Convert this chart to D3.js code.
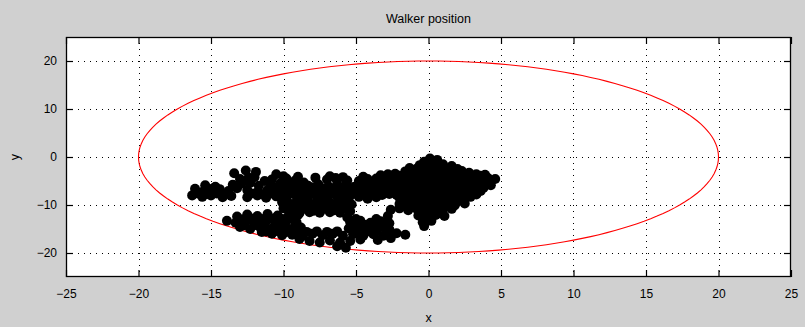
<!DOCTYPE html>
<html>
<head>
<meta charset="utf-8">
<script src="https://cdn.jsdelivr.net/npm/d3@7"></script>
<style>
  html, body { margin: 0; padding: 0; background: #d0d0d0; }
  svg { display: block; }
  text { font-family: "Liberation Sans", Arial, sans-serif; fill: #000; }
</style>
</head>
<body>
<svg id="chart" width="805" height="327"></svg>
<script>
// Axis settings
const xDomain = [-25, 25];
const yDomain = [-25, 25];
const xTicks = [-25, -20, -15, -10, -5, 0, 5, 10, 15, 20, 25];
const yTicks = [-20, -10, 0, 10, 20];
const titleText = "Walker position";
const xLabelText = "x";
const yLabelText = "y";

// Boundary the walker moves inside (circle centred on the origin)
const boundaryCenter = [0, 0];
const boundaryRadius = 20;

// Recorded walker positions [x, y]
const walkerPositions = [
  // upper-left band and the bumps above it
  [-13.4,-3.4],[-12.6,-2.8],[-11.9,-3.1],[-10.5,-3.6],[-10.0,-4.0],
  [-9.0,-4.1],[-7.8,-4.3],[-6.8,-4.0],[-5.9,-4.2],[-4.5,-4.1],
  [-13.0,-4.6],[-12.4,-4.3],[-10.8,-4.7],[-9.8,-4.5],[-9.2,-4.9],[-8.6,-5.3],
  [-7.0,-4.7],[-6.4,-4.4],[-5.6,-4.9],[-4.8,-5.0],[-4.2,-4.6],
  [-15.4,-5.9],[-14.7,-6.2],[-12.3,-5.4],[-11.7,-6.0],[-10.9,-5.7],[-10.2,-5.4],
  [-9.5,-5.9],[-8.9,-5.6],[-8.3,-6.0],[-7.6,-5.7],[-6.9,-6.1],[-6.3,-5.6],
  [-5.7,-5.9],[-5.1,-6.2],[-4.5,-5.6],[-3.9,-5.9],
  [-14.9,-6.6],[-13.5,-5.8],[-12.9,-5.5],[-12.0,-4.2],[-11.3,-5.0],[-10.6,-6.3],
  [-9.9,-6.2],[-9.2,-6.4],[-8.6,-6.5],[-7.9,-6.3],[-7.3,-6.5],[-6.6,-6.6],
  [-5.9,-6.4],[-5.3,-6.6],[-4.6,-6.3],[-4.0,-6.5],[-3.4,-6.3],
  [-16.1,-6.6],[-15.6,-7.3],[-15.0,-7.0],[-14.4,-6.7],[-13.8,-7.1],[-13.2,-6.5],
  [-12.5,-6.9],[-11.8,-7.3],[-11.1,-6.9],[-10.3,-7.2],[-9.6,-6.8],[-9.0,-7.3],
  [-8.3,-6.9],[-7.6,-7.2],[-7.0,-6.8],[-6.3,-7.3],[-5.6,-7.0],[-4.9,-7.4],
  [-4.2,-6.9],[-3.6,-7.2],
  [-15.9,-7.6],[-15.3,-7.7],[-14.6,-7.6],[-14.0,-7.7],[-12.2,-7.6],[-11.5,-7.7],
  [-10.8,-7.6],[-10.1,-7.7],[-9.4,-7.6],[-8.7,-7.8],[-8.0,-7.6],[-7.3,-7.8],
  [-6.6,-7.6],[-6.0,-7.8],[-5.2,-7.7],[-4.5,-7.8],[-3.9,-7.7],[-3.2,-7.9],
  [-16.3,-8.0],[-15.6,-8.3],[-15.0,-8.0],[-14.2,-8.4],[-13.6,-8.1],[-12.5,-8.4],
  [-11.8,-8.0],[-11.2,-8.5],[-10.5,-8.2],[-9.8,-8.6],[-9.1,-8.2],[-8.4,-8.6],
  [-7.7,-8.3],[-7.0,-8.5],[-6.3,-8.2],[-5.5,-8.6],[-4.8,-8.3],[-4.2,-8.7],[-3.6,-8.4],
  // middle section
  [-9.8,-9.0],[-9.0,-8.9],[-8.3,-9.1],[-7.6,-8.9],[-6.9,-9.1],[-6.2,-9.0],[-5.6,-9.1],
  [-10.1,-9.4],[-9.4,-9.8],[-8.7,-9.5],[-8.0,-9.9],[-7.3,-9.5],[-6.6,-9.8],
  [-5.9,-9.4],[-5.3,-9.9],
  [-9.7,-10.2],[-9.0,-10.3],[-8.3,-10.2],[-7.6,-10.4],[-6.9,-10.2],[-6.2,-10.3],
  [-10.0,-10.7],[-9.3,-11.1],[-8.6,-10.8],[-7.9,-11.2],[-7.2,-10.8],[-6.5,-11.1],
  [-5.8,-10.7],
  [-9.6,-11.6],[-8.9,-11.7],[-8.2,-11.5],[-7.5,-11.6],[-6.8,-11.5],[-6.1,-11.6],[-5.4,-11.3],
  // lower band along the boundary
  [-13.2,-12.4],[-12.5,-12.0],[-11.8,-12.3],[-11.1,-11.9],[-10.4,-12.2],[-9.7,-12.5],
  [-9.0,-12.1],[-5.6,-12.6],[-2.8,-12.3],
  [-12.8,-13.0],[-12.2,-12.8],[-11.5,-12.9],[-10.8,-12.8],[-10.1,-12.9],[-9.4,-12.8],
  [-5.0,-12.9],[-3.6,-12.9],
  [-13.9,-13.3],[-13.3,-13.7],[-12.6,-13.4],[-11.9,-13.8],[-11.2,-13.4],[-10.5,-13.7],
  [-9.8,-13.3],[-9.1,-13.6],[-5.4,-13.6],[-4.7,-13.3],[-4.0,-13.7],[-3.3,-13.4],[-2.7,-13.8],
  [-12.7,-14.2],[-12.0,-14.2],[-11.3,-14.1],[-10.6,-14.3],[-9.9,-14.2],[-9.2,-14.1],
  [-5.1,-14.2],[-4.4,-14.1],[-3.7,-14.2],[-3.0,-14.1],
  [-13.0,-14.6],[-12.3,-15.0],[-11.6,-14.7],[-10.9,-15.1],[-10.2,-14.8],[-9.5,-15.1],
  [-8.8,-14.7],[-5.5,-14.9],[-4.8,-14.6],[-4.1,-15.0],[-3.4,-14.7],[-2.7,-15.1],[-2.2,-15.9],
  [-11.2,-15.5],[-10.5,-15.4],[-9.8,-15.6],[-9.1,-15.7],[-8.4,-15.6],[-7.7,-15.5],
  [-7.0,-15.6],[-6.3,-15.5],[-5.0,-15.5],[-4.3,-15.6],[-3.6,-15.5],[-2.9,-15.7],
  [-11.5,-15.6],[-10.8,-16.0],[-10.1,-16.3],[-9.4,-16.2],[-8.7,-16.5],[-8.0,-16.0],
  [-7.3,-16.3],[-6.6,-16.0],[-5.9,-16.4],[-5.2,-16.1],[-4.5,-16.4],[-3.8,-16.1],
  [-3.1,-16.4],[-1.6,-16.2],
  [-8.9,-17.1],[-8.2,-17.5],[-7.5,-17.8],[-6.8,-17.4],[-6.1,-17.8],[-5.4,-17.5],
  [-4.7,-17.2],[-3.5,-17.3],[-2.6,-16.9],
  [-6.3,-18.6],[-5.7,-18.9],
  // dense cluster near the origin
  [0.1,-0.3],[0.6,-0.6],
  [-0.3,-1.0],[0.3,-1.1],
  [-0.6,-1.7],[-0.1,-1.4],[0.5,-1.8],[1.0,-1.5],[1.6,-1.9],
  [-1.3,-2.3],[-0.8,-2.4],[-0.2,-2.3],[0.4,-2.4],[0.9,-2.2],[1.4,-2.4],[2.0,-2.5],
  [-1.6,-3.0],[-1.1,-2.7],[-0.5,-3.2],[0.1,-2.9],[0.6,-3.2],[1.2,-2.8],[1.7,-3.1],
  [2.3,-2.9],[2.8,-3.3],
  [-3.3,-3.8],[-2.8,-3.6],[-2.3,-3.5],[-1.7,-3.7],[-1.2,-3.6],[-0.6,-3.8],[0.0,-3.6],
  [0.6,-3.8],[1.1,-3.6],[1.7,-3.8],[2.2,-3.6],[2.8,-3.8],[3.3,-3.6],[3.9,-3.7],
  [-3.6,-4.5],[-3.1,-4.1],[-2.5,-4.4],[-2.0,-3.9],[-1.4,-4.3],[-0.8,-4.0],[-0.3,-4.5],
  [0.3,-4.2],[0.8,-4.6],[1.4,-4.1],[1.9,-4.5],[2.5,-4.2],[3.0,-4.6],[3.6,-3.9],
  [4.1,-4.4],[4.6,-4.6],
  [-3.0,-5.0],[-2.5,-5.1],[-1.9,-4.9],[-1.3,-5.1],[-0.8,-4.9],[-0.2,-5.1],[0.4,-4.9],
  [0.9,-5.1],[1.5,-4.9],[2.0,-5.1],[2.6,-4.9],[3.1,-5.1],[3.7,-4.9],[4.2,-5.1],
  [-3.3,-5.8],[-2.7,-5.4],[-2.2,-5.9],[-1.6,-5.5],[-1.0,-5.8],[-0.5,-5.4],[0.1,-5.9],
  [0.6,-5.5],[1.2,-5.8],[1.7,-5.4],[2.3,-5.9],[2.8,-5.5],[3.4,-5.8],[3.9,-5.4],[4.3,-5.9],
  [-3.1,-6.4],[-2.5,-6.2],[-1.9,-6.4],[-1.3,-6.2],[-0.7,-6.4],[-0.1,-6.2],[0.5,-6.4],
  [1.0,-6.2],[1.6,-6.4],[2.1,-6.2],[2.7,-6.4],[3.2,-6.2],[3.8,-6.4],
  [-3.0,-7.2],[-2.4,-6.8],[-1.9,-7.3],[-1.3,-6.9],[-0.8,-7.2],[-0.2,-6.8],[0.3,-7.3],
  [0.9,-6.9],[1.4,-7.2],[2.0,-6.8],[2.5,-7.3],[3.1,-6.9],[3.6,-7.1],
  [-2.7,-7.7],[-2.2,-7.9],[-1.6,-7.6],[-1.1,-7.8],[-0.5,-7.6],[0.0,-7.8],[0.6,-7.6],
  [1.1,-7.8],[1.7,-7.6],[2.2,-7.8],[2.8,-7.6],[3.3,-7.8],
  [-2.0,-8.5],[-1.5,-8.1],[-0.9,-8.6],[-0.4,-8.2],[0.2,-8.5],[0.7,-8.1],[1.3,-8.6],
  [1.8,-8.2],[2.4,-8.5],[2.9,-8.3],
  [-1.7,-8.9],[-1.2,-9.1],[-0.6,-8.9],[0.0,-9.1],[0.5,-8.9],[1.1,-9.1],[1.6,-8.9],[2.2,-9.0],
  [-2.0,-9.8],[-1.4,-9.4],[-0.9,-9.9],[-0.3,-9.5],[0.3,-9.8],[0.8,-9.4],[1.4,-9.9],
  [1.9,-9.5],[2.5,-9.7],
  [-1.7,-10.2],[-1.1,-10.4],[-0.5,-10.2],[0.1,-10.4],[0.6,-10.2],[1.2,-10.3],[1.8,-10.1],
  [-2.6,-11.0],[-2.0,-10.7],[-1.4,-11.1],[-0.8,-10.8],[-0.2,-11.1],[0.4,-10.7],
  [1.0,-11.0],[1.6,-10.8],
  [-0.4,-11.7],[0.2,-11.6],[0.8,-11.7],
  [-0.7,-12.2],[-0.1,-12.5],[0.5,-12.1],[1.1,-12.3],
  [-0.4,-13.6],[0.2,-13.3],[-0.3,-14.4]
];

const svg = d3.select("#chart");
const W = 805, H = 327;
const margin = { left: 66, right: 14, top: 37, bottom: 50 };
const plotW = W - margin.left - margin.right;
const plotH = H - margin.top - margin.bottom;

svg.append("rect").attr("width", W).attr("height", H).attr("fill", "#d0d0d0");

const x = d3.scaleLinear().domain(xDomain).range([margin.left, margin.left + plotW]);
const y = d3.scaleLinear().domain(yDomain).range([margin.top + plotH, margin.top]);

// white axes background
svg.append("rect")
  .attr("x", margin.left).attr("y", margin.top)
  .attr("width", plotW).attr("height", plotH)
  .attr("fill", "#fff");

// dotted grid
const grid = svg.append("g").attr("stroke", "#000").attr("stroke-width", 1)
  .attr("stroke-dasharray", "1,5").attr("shape-rendering", "crispEdges");
grid.selectAll("line.gx").data(xTicks.filter(t => t > xDomain[0] && t < xDomain[1]))
  .join("line").attr("class", "gx")
  .attr("x1", d => Math.round(x(d)) + 0.5).attr("x2", d => Math.round(x(d)) + 0.5)
  .attr("y1", margin.top).attr("y2", margin.top + plotH);
grid.selectAll("line.gy").data(yTicks)
  .join("line").attr("class", "gy")
  .attr("y1", d => Math.round(y(d)) + 0.5).attr("y2", d => Math.round(y(d)) + 0.5)
  .attr("x1", margin.left).attr("x2", margin.left + plotW);

// boundary circle in data coordinates
const angles = d3.range(0, 361, 2);
const boundaryLine = d3.line()
  .x(a => x(boundaryCenter[0] + boundaryRadius * Math.cos(a * Math.PI / 180)))
  .y(a => y(boundaryCenter[1] + boundaryRadius * Math.sin(a * Math.PI / 180)));
svg.append("path").datum(angles)
  .attr("d", boundaryLine)
  .attr("fill", "none").attr("stroke", "#ff0000").attr("stroke-width", 1.1);

// walker positions
svg.append("g").selectAll("circle").data(walkerPositions).join("circle")
  .attr("cx", d => x(d[0])).attr("cy", d => y(d[1]))
  .attr("r", 5).attr("fill", "#000");

// axes with inward ticks on all four sides
const tickLen = 7;
const fontSize = 12;
const axB = d3.axisBottom(x).tickValues(xTicks).tickSize(-tickLen).tickPadding(12).tickFormat(d3.format("d"));
const axT = d3.axisTop(x).tickValues(xTicks).tickSize(-tickLen).tickFormat("");
const axL = d3.axisLeft(y).tickValues(yTicks).tickSize(-tickLen).tickPadding(9).tickFormat(d3.format("d"));
const axR = d3.axisRight(y).tickValues(yTicks).tickSize(-tickLen).tickFormat("");

function styleAxis(g) {
  g.select(".domain").remove();
  g.selectAll("line").attr("stroke", "#000").attr("stroke-width", 1.2);
  g.selectAll("text").attr("font-size", fontSize)
    .attr("font-family", "'Liberation Sans', Arial, sans-serif").attr("fill", "#000");
}
svg.append("g").attr("transform", `translate(0,${margin.top + plotH})`).call(axB).call(styleAxis);
svg.append("g").attr("transform", `translate(0,${margin.top})`).call(axT).call(styleAxis);
svg.append("g").attr("transform", `translate(${margin.left},0)`).call(axL).call(styleAxis);
svg.append("g").attr("transform", `translate(${margin.left + plotW},0)`).call(axR).call(styleAxis);

// axes box
svg.append("rect")
  .attr("x", margin.left + 0.5).attr("y", margin.top + 0.5)
  .attr("width", plotW - 1).attr("height", plotH - 1)
  .attr("fill", "none").attr("stroke", "#000").attr("stroke-width", 1.3);

// title and axis labels
svg.append("text").attr("x", margin.left + plotW / 2).attr("y", 23)
  .attr("text-anchor", "middle").attr("font-size", 12.5).text(titleText);
svg.append("text").attr("x", margin.left + plotW / 2).attr("y", 322)
  .attr("text-anchor", "middle").attr("font-size", 12.5).text(xLabelText);
svg.append("text")
  .attr("transform", `translate(19,${margin.top + plotH / 2}) rotate(-90)`)
  .attr("text-anchor", "middle").attr("font-size", 12.5).text(yLabelText);
</script>
</body>
</html>
